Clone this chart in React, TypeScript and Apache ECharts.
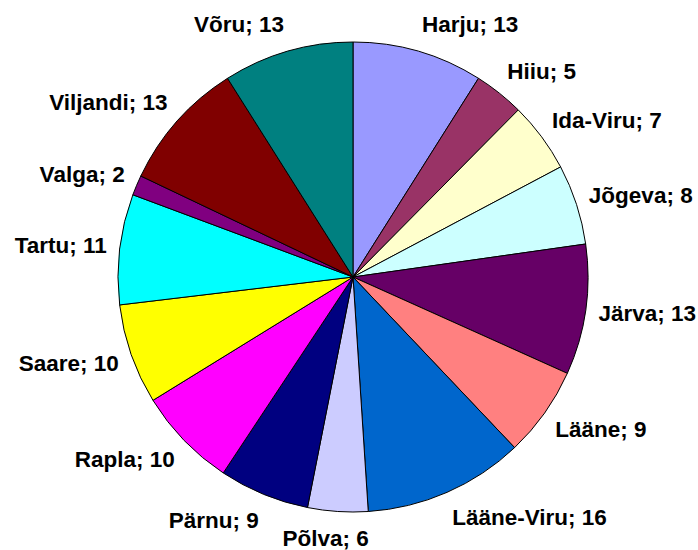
import React, { useEffect, useRef } from "react";
import * as echarts from "echarts";

const names = [
  "Harju", "Hiiu", "Ida-Viru", "Jõgeva", "Järva", "Lääne", "Lääne-Viru",
  "Põlva", "Pärnu", "Rapla", "Saare", "Tartu", "Valga", "Viljandi", "Võru",
];
const values = [13, 5, 7, 8, 13, 9, 16, 6, 9, 10, 10, 11, 2, 13, 13];
const colors = [
  "#9999FF", "#993366", "#FFFFCC", "#CCFFFF", "#660066", "#FF8080", "#0066CC",
  "#CCCCFF", "#000080", "#FF00FF", "#FFFF00", "#00FFFF", "#800080", "#800000", "#008080",
];

const CX = 353;
const CY = 277;
const R = 235;

const clamp = (v: number, a: number, b: number) => Math.max(a, Math.min(b, v));

export default function App() {
  const ref = useRef<HTMLDivElement>(null);
  useEffect(() => {
    document.body.style.margin = "0";
    if (!ref.current) return;
    const chart = echarts.init(ref.current, null, { renderer: "svg" });
    const total = values.reduce((a, b) => a + b, 0);
    const mids: number[] = [];
    let acc = 0;
    values.forEach((v) => {
      mids.push(((acc + v / 2) / total) * 360);
      acc += v;
    });
    chart.setOption({
      animation: false,
      backgroundColor: "#ffffff",
      series: [
        {
          type: "pie",
          center: [CX, CY],
          radius: R,
          startAngle: 90,
          clockwise: true,
          avoidLabelOverlap: false,
          itemStyle: { borderColor: "#000000", borderWidth: 1 },
          emphasis: { disabled: true },
          label: {
            show: true,
            position: "outside",
            formatter: "{b}; {c}",
            color: "#000000",
            fontFamily: "'Liberation Sans', Arial, sans-serif",
            fontWeight: "bold",
            fontSize: 22.5,
          },
          labelLine: { show: false },
          labelLayout: (p: any) => {
            const th = (mids[p.dataIndex] * Math.PI) / 180;
            const sx = Math.sin(th);
            const sy = -Math.cos(th);
            const D = R + 13;
            const w = p.labelRect.width;
            const h = p.labelRect.height;
            const s = clamp(4 * sx, -1, 1);
            const c = clamp(1.3 * sy, -1.2, 1.2);
            return {
              x: CX + D * sx + (w / 2) * s,
              y: CY + D * sy + (h / 2) * c,
              align: "center",
              verticalAlign: "middle",
            };
          },
          data: names.map((n, i) => ({
            name: n,
            value: values[i],
            itemStyle: { color: colors[i] },
          })),
        },
      ],
    });
    return () => chart.dispose();
  }, []);
  return <div ref={ref} style={{ width: 698, height: 550 }} />;
}
